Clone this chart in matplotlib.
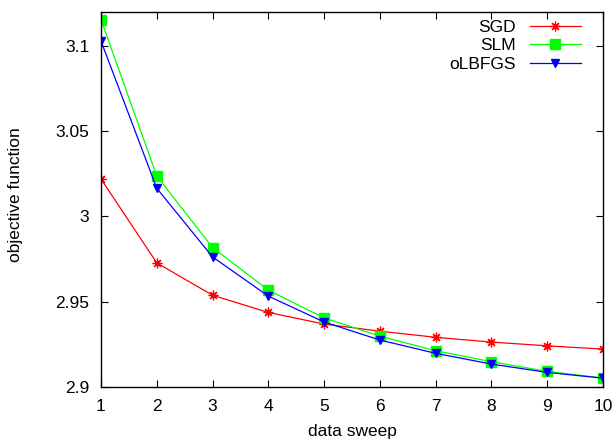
import matplotlib
matplotlib.use("Agg")
import matplotlib.pyplot as plt

plt.rcParams['font.family'] = ['Liberation Sans', 'DejaVu Sans']

sweeps = [1, 2, 3, 4, 5, 6, 7, 8, 9, 10]
sgd = [3.022, 2.9727, 2.9537, 2.9436, 2.9368, 2.9326, 2.929, 2.9262, 2.924, 2.9221]
slm = [3.1155, 3.0237, 2.9817, 2.9567, 2.9404, 2.9297, 2.9211, 2.9147, 2.909, 2.9051]
olbfgs = [3.103, 3.0165, 2.9762, 2.9532, 2.938, 2.9274, 2.9196, 2.9133, 2.9084, 2.905]
xticks = [1, 2, 3, 4, 5, 6, 7, 8, 9, 10]
yticks = [2.9, 2.95, 3.0, 3.05, 3.1]
yticklabels = ['2.9', '2.95', '3', '3.05', '3.1']

fig = plt.figure(figsize=(6.15, 4.41), dpi=100)
ax = fig.add_axes([0.1642, 0.1231, 0.8163, 0.8497])

ax.plot(sweeps, sgd, color='#ff0000', lw=0.9, marker=(8, 2, 0), ms=7, mew=0.9, label='SGD')
ax.plot(sweeps, slm, color='#00ff00', lw=0.9, marker='s', ms=6.5, mec='#00ff00', label='SLM')
ax.plot(sweeps, olbfgs, color='#0000ff', lw=0.9, marker='v', ms=5.5, mec='#0000ff', label='oLBFGS')

ax.set_xlim(1, 10)
ax.set_ylim(2.9, 3.12)
ax.set_xticks(xticks)
ax.set_yticks(yticks)
ax.set_yticklabels(yticklabels)
ax.tick_params(direction='in', top=True, right=True, labelsize=12.5, length=5, width=0.8)
ax.tick_params(axis='x', pad=9)
ax.tick_params(axis='y', pad=8.5)
for s in ax.spines.values():
    s.set_linewidth(1.0)

ax.set_xlabel('data sweep', fontsize=12.5)
ax.set_ylabel('objective function', fontsize=12.5)
ax.xaxis.set_label_coords(0.5, -0.1)
ax.yaxis.set_label_coords(-0.156, 0.512)

leg = ax.legend(loc='upper right', bbox_to_anchor=(0.956, 0.98), frameon=False,
                markerfirst=False, fontsize=12.5, handlelength=2.95,
                labelspacing=0.2, borderaxespad=0, borderpad=0, handletextpad=0.8)
for t in leg.get_texts():
    t.set_ha('right')
leg._legend_box.align = 'right'

fig.savefig('out.png', dpi=100)
